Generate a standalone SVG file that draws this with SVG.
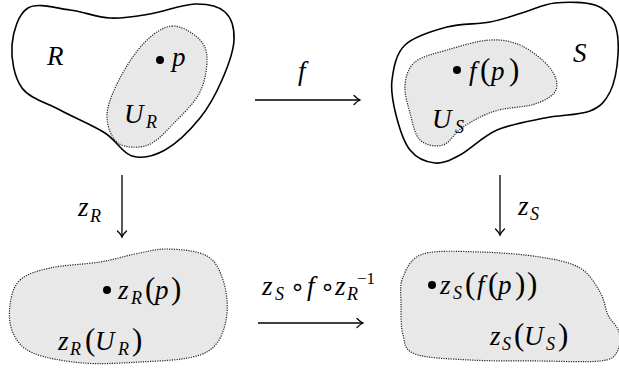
<svg xmlns="http://www.w3.org/2000/svg" width="619" height="371" viewBox="0 0 619 371">
<style>
.outer{fill:#fff;stroke:#000;stroke-width:1.6}
.open{fill:#e8e8e8;stroke:#222;stroke-width:1.2;stroke-dasharray:1.2 1.2}
text{font-family:"Liberation Serif","Times New Roman",serif;fill:#000}
.v{font-style:italic;font-size:27px}
.p{font-style:normal;font-size:31px}
.s{font-style:italic;font-size:18px}
.o{font-family:"DejaVu Sans",sans-serif;font-size:24px}
.n{font-style:normal;font-size:17px}
.arr{fill:none;stroke:#000;stroke-width:1.3;marker-end:url(#ah)}
.dot{fill:#000}
</style>
<defs>
<marker id="ah" viewBox="-8 -6 10 12" refX="0" refY="0" markerWidth="10" markerHeight="12" markerUnits="userSpaceOnUse" orient="auto" overflow="visible">
<path d="M-6,-4.5 Q-2.5,-1 0,0 Q-2.5,1 -6,4.5" fill="none" stroke="#000" stroke-width="1.3" stroke-linecap="round"/>
</marker>
</defs>

<g id="node-R">
<path class="outer" d="M12,45 C13,31.7 18.3,13.8 28,8 C37.7,2.2 56.3,8.3 70,10 C83.7,11.7 96.7,17.3 110,18 C123.3,18.7 135.8,16.3 150,14 C164.2,11.7 182.5,4.3 195,4 C207.5,3.7 218.5,6 225,12 C231.5,18 234.5,28.7 234,40 C233.5,51.3 227.7,67 222,80 C216.3,93 209.5,106.3 200,118 C190.5,129.7 176.3,143.7 165,150 C153.7,156.3 142,158.8 132,156 C122,153.2 117,140.7 105,133 C93,125.3 73.8,117.5 60,110 C46.2,102.5 30,98.8 22,88 C14,77.2 11,58.3 12,45 Z"/>
<path class="open" d="M172,26 C180.8,25.3 192.2,32.7 198,38 C203.8,43.3 206.7,49 207,58 C207.3,67 205.3,81.3 200,92 C194.7,102.7 183.7,113.2 175,122 C166.3,130.8 157.5,141.5 148,145 C138.5,148.5 124.8,148 118,143 C111.2,138 106.7,125.8 107,115 C107.3,104.2 113.7,90.2 120,78 C126.3,65.8 136.3,50.7 145,42 C153.7,33.3 163.2,26.7 172,26 Z"/>
<text class="v" x="47" y="65">R</text>
<circle class="dot" cx="160" cy="60" r="4"/>
<text class="v" x="172" y="66">p</text>
<text><tspan class="v" x="124" y="123">U</tspan><tspan class="s" x="146" y="128">R</tspan></text>
</g>

<g id="node-S">
<path class="outer" d="M392,80 C393.5,68.3 395.8,53.8 405,45 C414.2,36.2 432.8,30.8 447,27 C461.2,23.2 477,24.5 490,22 C503,19.5 514.2,15.2 525,12 C535.8,8.8 543.3,4.2 555,3 C566.7,1.8 585.2,1.8 595,5 C604.8,8.2 610.2,13.7 614,22 C617.8,30.3 618.7,43.3 618,55 C617.3,66.7 614.7,82.7 610,92 C605.3,101.3 600.8,106.7 590,111 C579.2,115.3 560.5,114.8 545,118 C529.5,121.2 511.2,123.8 497,130 C482.8,136.2 470.3,149.5 460,155 C449.7,160.5 443.3,163.8 435,163 C426.7,162.2 416.5,158 410,150 C403.5,142 399,126.7 396,115 C393,103.3 390.5,91.7 392,80 Z"/>
<path class="open" d="M405,85 C405.8,76.5 408,67.8 415,62 C422,56.2 434.5,53.7 447,50 C459.5,46.3 477.5,40.7 490,40 C502.5,39.3 512,41.3 522,46 C532,50.7 544.3,60.7 550,68 C555.7,75.3 558.5,84 556,90 C553.5,96 545.2,100.5 535,104 C524.8,107.5 507,107.2 495,111 C483,114.8 471.7,121.3 463,127 C454.3,132.7 450.2,142.8 443,145 C435.8,147.2 425.5,145.3 420,140 C414.5,134.7 412.5,122.2 410,113 C407.5,103.8 404.2,93.5 405,85 Z"/>
<text class="v" x="573" y="62">S</text>
<circle class="dot" cx="457" cy="70" r="4"/>
<text><tspan class="v" x="469" y="80">f</tspan><tspan class="p" x="480" y="80">(</tspan><tspan class="v" x="491" y="80">p</tspan><tspan class="p" x="509" y="80">)</tspan></text>
<text><tspan class="v" x="432" y="128">U</tspan><tspan class="s" x="455" y="133">S</tspan></text>
</g>

<g id="node-zR">
<path class="open" d="M20,280 C26.7,273.8 36.7,271 50,268 C63.3,265 85.8,264.3 100,262 C114.2,259.7 123.7,256.2 135,254 C146.3,251.8 156,248.7 168,249 C180,249.3 197.8,250.8 207,256 C216.2,261.2 219.7,270.5 223,280 C226.3,289.5 228,302.5 227,313 C226,323.5 222.7,335.7 217,343 C211.3,350.3 205.8,353.8 193,357 C180.2,360.2 158.3,361 140,362 C121.7,363 100.8,364.5 83,363 C65.2,361.5 44.7,358 33,353 C21.3,348 16.8,341 13,333 C9.2,325 8.8,313.8 10,305 C11.2,296.2 13.3,286.2 20,280 Z"/>
<circle class="dot" cx="107" cy="290" r="4"/>
<text><tspan class="v" x="118" y="299">z</tspan><tspan class="s" x="131" y="304">R</tspan><tspan class="p" x="145" y="299">(</tspan><tspan class="v" x="155" y="299">p</tspan><tspan class="p" x="171" y="299">)</tspan></text>
<text><tspan class="v" x="58" y="350">z</tspan><tspan class="s" x="70" y="355">R</tspan><tspan class="p" x="85" y="350">(</tspan><tspan class="v" x="95" y="350">U</tspan><tspan class="s" x="118" y="355">R</tspan><tspan class="p" x="132" y="350">)</tspan></text>
</g>

<g id="node-zS">
<path class="open" d="M403,277 C406.7,268.5 410.2,258.2 423,254 C435.8,249.8 460.5,251.5 480,252 C499.5,252.5 523.3,254.3 540,257 C556.7,259.7 570,262.2 580,268 C590,273.8 595.3,284.2 600,292 C604.7,299.8 604.8,308.3 608,315 C611.2,321.7 617.5,325.8 619,332 C620.5,338.2 620.2,347.2 617,352 C613.8,356.8 612.8,359.5 600,361 C587.2,362.5 561.7,361.2 540,361 C518.3,360.8 490.8,361.2 470,360 C449.2,358.8 426.2,358.2 415,354 C403.8,349.8 405.3,343.2 403,335 C400.7,326.8 401,314.7 401,305 C401,295.3 399.3,285.5 403,277 Z"/>
<circle class="dot" cx="432" cy="285" r="4"/>
<text><tspan class="v" x="440" y="294">z</tspan><tspan class="s" x="453" y="299">S</tspan><tspan class="p" x="465" y="294">(</tspan><tspan class="v" x="477" y="294">f</tspan><tspan class="p" x="488" y="294">(</tspan><tspan class="v" x="498" y="294">p</tspan><tspan class="p" x="515" y="294">)</tspan><tspan class="p" x="527" y="294">)</tspan></text>
<text><tspan class="v" x="490" y="345">z</tspan><tspan class="s" x="502" y="350">S</tspan><tspan class="p" x="514" y="345">(</tspan><tspan class="v" x="524" y="345">U</tspan><tspan class="s" x="546" y="350">S</tspan><tspan class="p" x="558" y="345">)</tspan></text>
</g>

<g id="connectors">
<line class="arr" x1="255" y1="100" x2="360" y2="100"/>
<text class="v" x="298" y="80">f</text>
<line class="arr" x1="258" y1="323" x2="363" y2="323"/>
<text><tspan class="v" x="262" y="295">z</tspan><tspan class="s" x="275" y="300">S</tspan><tspan class="o" x="290" y="295">∘</tspan><tspan class="v" x="307" y="295">f</tspan><tspan class="o" x="320" y="295">∘</tspan><tspan class="v" x="335" y="295">z</tspan><tspan class="s" x="347" y="300">R</tspan><tspan class="n" x="357" y="284">−1</tspan></text>
<line class="arr" x1="122" y1="175" x2="122" y2="237"/>
<text><tspan class="v" x="78" y="216">z</tspan><tspan class="s" x="90" y="222">R</tspan></text>
<line class="arr" x1="500" y1="175" x2="500" y2="235"/>
<text><tspan class="v" x="518" y="215">z</tspan><tspan class="s" x="530" y="220">S</tspan></text>
</g>
</svg>
